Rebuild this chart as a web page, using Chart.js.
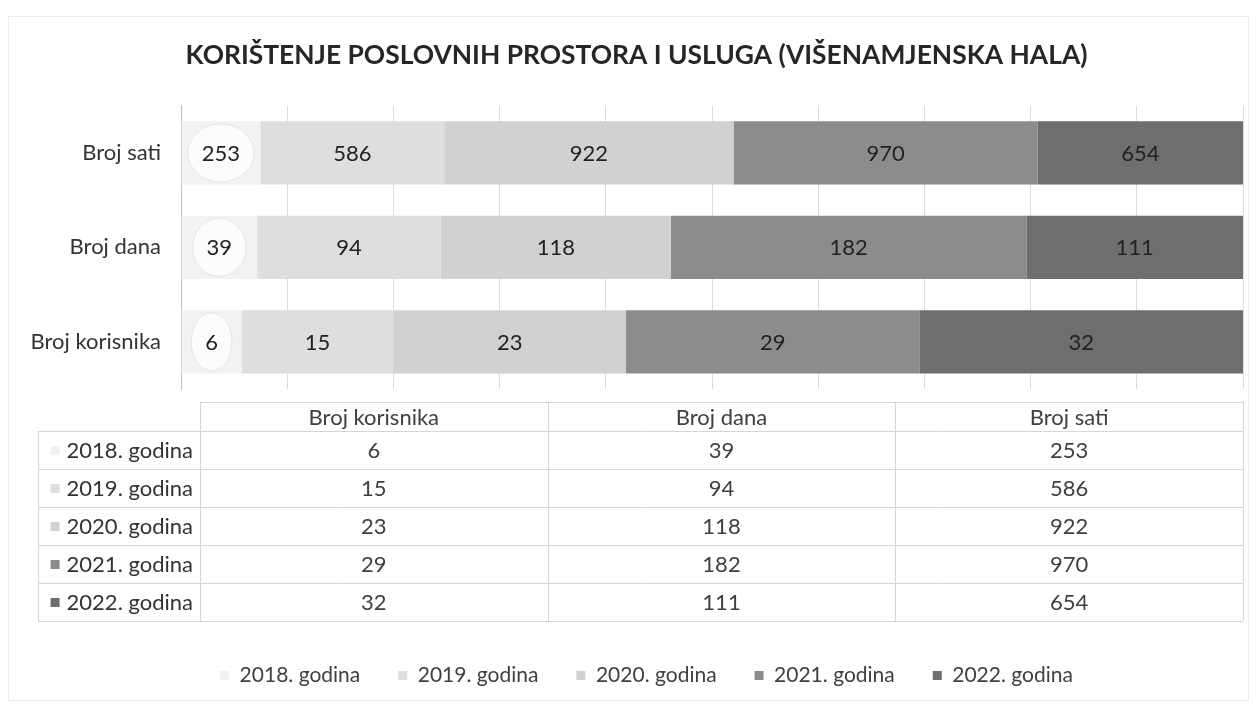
<!DOCTYPE html>
<html lang="hr">
<head>
<meta charset="UTF-8">
<title>Korištenje poslovnih prostora i usluga</title>
<script src="https://cdn.jsdelivr.net/npm/chart.js"></script>
<style>
    html, body {
        margin: 0;
        padding: 0;
        background-color: #ffffff;
    }

    .chart-container {
        position: relative;
        width: 1257px;
        height: 706px;
    }
</style>
</head>
<body>
<div class="chart-container">
    <canvas id="hallChart"></canvas>
</div>

<script>
// Categories (Excel order, first one is drawn at the bottom)
const categories = ['Broj korisnika', 'Broj dana', 'Broj sati'];
const years = ['2018. godina', '2019. godina', '2020. godina', '2021. godina', '2022. godina'];

// Values per year, in category order
const values2018 = [6, 39, 253];
const values2019 = [15, 94, 586];
const values2020 = [23, 118, 922];
const values2021 = [29, 182, 970];
const values2022 = [32, 111, 654];
const seriesValues = [values2018, values2019, values2020, values2021, values2022];

const percentTicks = [0, 10, 20, 30, 40, 50, 60, 70, 80, 90, 100];

// Grey shades for each year
const seriesColors = ['#f2f2f2', '#dedede', '#d1d1d1', '#8c8c8c', '#6e6e6e'];

const fontFamily = 'Lato, "Open Sans", sans-serif';
Chart.defaults.font.family = fontFamily;
Chart.defaults.color = '#404040';

// 100% stacked: share of each year in the category total
const totals = categories.map((c, j) => seriesValues.reduce((s, v) => s + v[j], 0));

const datasets = years.map((year, i) => ({
    label: year,
    data: seriesValues[i].map((v, j) => v / totals[j] * 100),
    rawValues: seriesValues[i],
    backgroundColor: seriesColors[i],
    borderWidth: 0,
    categoryPercentage: 1,
    barPercentage: 0.67
}));

// White page with the faint frame of the scanned chart
const pageFrame = {
    id: 'pageFrame',
    beforeDraw(chart) {
        const ctx = chart.ctx;
        ctx.save();
        ctx.fillStyle = '#ffffff';
        ctx.fillRect(0, 0, chart.width, chart.height);
        ctx.strokeStyle = '#ebebeb';
        ctx.lineWidth = 1;
        ctx.strokeRect(8.5, 16.5, chart.width - 17, chart.height - 22);
        ctx.restore();
    }
};

// The original legend and title sit a bit right of the page centre
const blockShift = {
    id: 'blockShift',
    afterLayout(chart) {
        chart.legend.left += 18;
        chart.legend.right += 18;
        chart.titleBlock.left += 8;
        chart.titleBlock.right += 8;
    }
};

// Value labels centred in every segment, 2018 ones inside a callout ellipse
const barLabels = {
    id: 'barLabels',
    afterDatasetsDraw(chart) {
        const ctx = chart.ctx;
        ctx.save();
        ctx.font = '22px ' + fontFamily;
        ctx.textAlign = 'center';
        ctx.textBaseline = 'middle';
        chart.data.datasets.forEach((ds, i) => {
            const meta = chart.getDatasetMeta(i);
            meta.data.forEach((bar, j) => {
                const text = String(ds.rawValues[j]);
                const cx = (bar.x + bar.base) / 2;
                if (i === 0) {
                    const rx = ctx.measureText(text).width / 2 + 14;
                    ctx.beginPath();
                    ctx.ellipse(cx, bar.y, rx, 29, 0, 0, Math.PI * 2);
                    ctx.fillStyle = '#fcfcfc';
                    ctx.fill();
                    ctx.strokeStyle = '#e6e6e6';
                    ctx.lineWidth = 1;
                    ctx.stroke();
                }
                ctx.fillStyle = '#222222';
                ctx.fillText(text, cx, bar.y + 1);
            });
        });
        ctx.restore();
    }
};

// Excel style data table under the plot
const dataTable = {
    id: 'dataTable',
    afterDraw(chart) {
        const ctx = chart.ctx;
        const area = chart.chartArea;
        const top = area.bottom + 13;
        const headH = 29;
        const rowH = 38;
        const labelLeft = 38;
        const colLeft = 200;
        const right = area.right;
        const colW = (right - colLeft) / categories.length;
        const bottom = top + headH + rowH * years.length;

        ctx.save();
        ctx.strokeStyle = '#d6d6d6';
        ctx.lineWidth = 1;
        ctx.beginPath();
        // header top line
        ctx.moveTo(colLeft, top + 0.5);
        ctx.lineTo(right, top + 0.5);
        // row lines
        for (let r = 0; r <= years.length; r++) {
            const y = Math.round(top + headH + r * rowH) + 0.5;
            ctx.moveTo(labelLeft, y);
            ctx.lineTo(right, y);
        }
        // column lines
        for (let c = 0; c <= categories.length; c++) {
            const x = Math.round(colLeft + c * colW) + 0.5;
            ctx.moveTo(x, top);
            ctx.lineTo(x, bottom);
        }
        ctx.moveTo(labelLeft + 0.5, top + headH);
        ctx.lineTo(labelLeft + 0.5, bottom);
        ctx.stroke();

        ctx.font = '22px ' + fontFamily;
        ctx.textBaseline = 'middle';
        ctx.fillStyle = '#404040';
        ctx.textAlign = 'center';
        categories.forEach((cat, c) => {
            ctx.fillText(cat, colLeft + c * colW + colW / 2, top + headH / 2 + 1);
        });

        years.forEach((year, r) => {
            const cy = top + headH + r * rowH + rowH / 2 + 1;
            ctx.textAlign = 'center';
            ctx.fillStyle = '#404040';
            seriesValues[r].forEach((v, c) => {
                ctx.fillText(String(v), colLeft + c * colW + colW / 2, cy);
            });
            ctx.textAlign = 'right';
            ctx.fillStyle = '#333333';
            ctx.fillText(year, colLeft - 7, cy);
            const tw = ctx.measureText(year).width;
            ctx.fillStyle = seriesColors[r];
            ctx.fillRect(colLeft - 7 - tw - 16, cy - 5, 9, 9);
        });
        ctx.restore();
    }
};

const canvas = document.getElementById('hallChart').getContext('2d');

new Chart(canvas, {
    type: 'bar',
    data: {
        labels: categories,
        datasets: datasets
    },
    options: {
        indexAxis: 'y',
        responsive: true,
        maintainAspectRatio: false,
        devicePixelRatio: 1,
        animation: false,
        layout: {
            padding: { left: 14, right: 14, top: 0, bottom: 10 }
        },
        scales: {
            x: {
                stacked: true,
                min: 0,
                max: 100,
                afterBuildTicks(scale) {
                    scale.ticks = percentTicks.map(v => ({ value: v }));
                },
                afterFit(scale) {
                    scale.height = 238;
                },
                ticks: { display: false },
                grid: { color: '#dcdcdc', drawTicks: false },
                border: { display: false }
            },
            y: {
                stacked: true,
                reverse: true,
                afterFit(scale) {
                    scale.width = 167;
                },
                ticks: {
                    padding: 20,
                    color: '#333333',
                    font: { size: 22 }
                },
                grid: { display: false, drawTicks: false },
                border: { display: true, color: '#bfbfbf' }
            }
        },
        plugins: {
            title: {
                display: true,
                text: 'KORIŠTENJE POSLOVNIH PROSTORA I USLUGA (VIŠENAMJENSKA HALA)',
                color: '#262626',
                font: { size: 26.4, weight: 'bold' },
                padding: { top: 40, bottom: 34 }
            },
            legend: {
                position: 'bottom',
                labels: {
                    boxWidth: 9,
                    boxHeight: 9,
                    padding: 38,
                    color: '#404040',
                    font: { size: 21 }
                }
            },
            tooltip: { enabled: false }
        }
    },
    plugins: [pageFrame, blockShift, barLabels, dataTable]
});
</script>
</body>
</html>
